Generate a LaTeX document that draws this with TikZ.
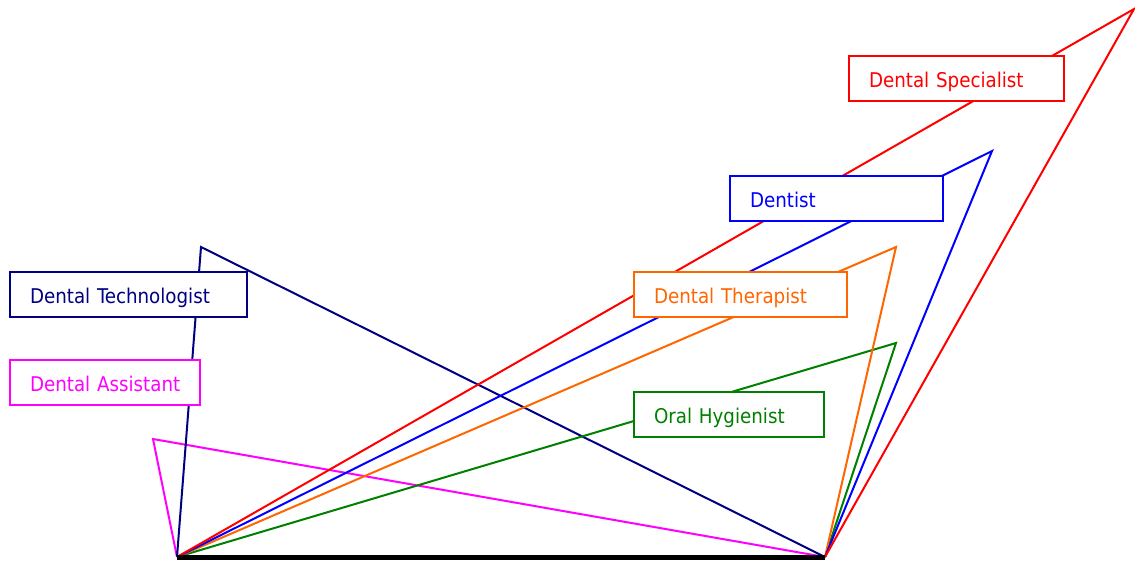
\documentclass[tikz,border=0pt]{standalone}
\usepackage{fontspec}
\setmainfont{DejaVu Sans Condensed}
\begin{document}
\begin{tikzpicture}[x=1pt,y=-1pt,
  edge/.style={line width=2pt,line join=miter},
  label/.style={draw=#1,text=#1,fill=white,line width=2pt,rectangle,minimum height=45pt,
    inner xsep=20pt,inner ysep=0pt,align=left,anchor=center,
    text height=17pt,text depth=0pt,
    font=\fontsize{20.3}{24}\selectfont},
  base/.style={line width=5pt}]
\definecolor{cred}{RGB}{255,0,0}
\definecolor{cblue}{RGB}{0,0,255}
\definecolor{corange}{RGB}{255,102,0}
\definecolor{cgreen}{RGB}{0,128,0}
\definecolor{cnavy}{RGB}{0,0,128}
\definecolor{cmagenta}{RGB}{255,0,255}
\useasboundingbox (0,0) rectangle (1135,563);
% end points of the base line and the apex of each triangle
\coordinate (L) at (177,557);
\coordinate (R) at (825,557);
\coordinate (aSpec) at (1134,9);
\coordinate (aDent) at (992,151);
\coordinate (aTher) at (896,247);
\coordinate (aHyg) at (896,343);
\coordinate (aTech) at (201,247);
\coordinate (aAssist) at (153,439);
% triangles
\draw[edge,cmagenta] (L) -- (aAssist) -- (R);
\draw[edge,cnavy] (L) -- (aTech) -- (R);
\draw[edge,cgreen] (L) -- (aHyg) -- (R);
\draw[edge,corange] (L) -- (aTher) -- (R);
\draw[edge,cblue] (L) -- (aDent) -- (R);
\draw[edge,cred] (L) -- (aSpec) -- (R);
% labels
\node[label=cred,minimum width=215pt,text width=175pt] (spec) at (956.5,78.5) {\mbox{Dental Specialist}};
\node[label=cblue,minimum width=213pt,text width=173pt] (dent) at (836.5,198.5) {\mbox{Dentist}};
\node[label=corange,minimum width=213pt,text width=173pt] (ther) at (740.5,294.5) {\mbox{Dental Therapist}};
\node[label=cgreen,minimum width=190pt,text width=150pt] (hyg) at (729,414.5) {\mbox{Oral Hygienist}};
\node[label=cnavy,minimum width=237pt,text width=197pt] (tech) at (128.5,294.5) {\mbox{Dental Technologist}};
\node[label=cmagenta,minimum width=190pt,text width=150pt] (assist) at (105,382.5) {\mbox{Dental Assistant}};
% base line
\draw[base] (L) -- (R);
\end{tikzpicture}
\end{document}
